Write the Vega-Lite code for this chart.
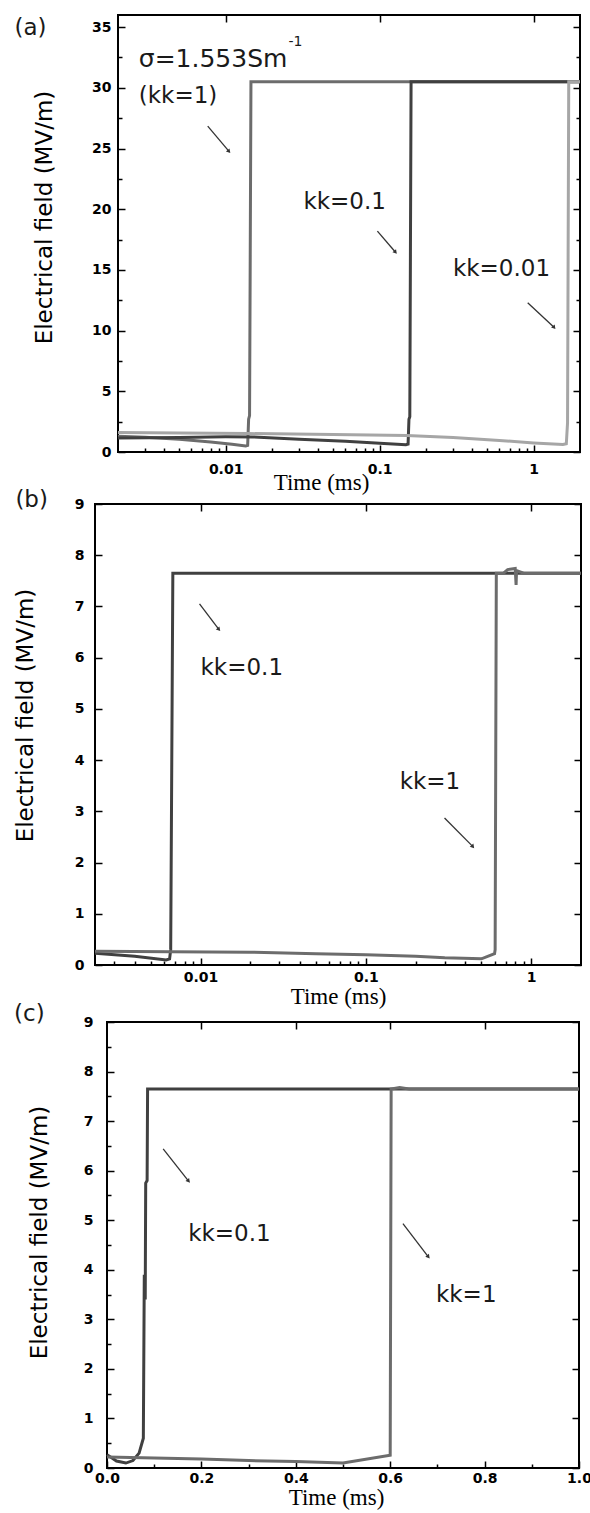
{
  "$schema": "https://vega.github.io/schema/vega-lite/v6.json",
  "background": "white",
  "padding": {"left": 13, "top": 13, "right": 0, "bottom": 0},
  "config": {
    "view": {"stroke": "black", "strokeWidth": 2},
    "axis": {"grid": false, "domain": false, "tickColor": "black", "tickWidth": 1.5, "labelColor": "black", "titleColor": "black", "labelFont": "DejaVu Sans", "labelFontWeight": "bold", "labelFontSize": 14, "labelFlush": false, "labelOverlap": false}
  },
  "datasets": {
    "a_lines": [
      {"kk": "1", "i": 0, "t": 0.002, "E": 1.3}, {"kk": "1", "i": 1, "t": 0.003, "E": 1.22}, {"kk": "1", "i": 2, "t": 0.005, "E": 1.05}, {"kk": "1", "i": 3, "t": 0.008, "E": 0.82}, {"kk": "1", "i": 4, "t": 0.011, "E": 0.63}, {"kk": "1", "i": 5, "t": 0.0135, "E": 0.5}, {"kk": "1", "i": 6, "t": 0.0139, "E": 0.55}, {"kk": "1", "i": 7, "t": 0.0141, "E": 2.7}, {"kk": "1", "i": 8, "t": 0.0143, "E": 3.0}, {"kk": "1", "i": 9, "t": 0.0146, "E": 30.5}, {"kk": "1", "i": 10, "t": 2, "E": 30.5},
      {"kk": "0.1", "i": 0, "t": 0.002, "E": 1.15}, {"kk": "0.1", "i": 1, "t": 0.005, "E": 1.2}, {"kk": "0.1", "i": 2, "t": 0.01, "E": 1.25}, {"kk": "0.1", "i": 3, "t": 0.015, "E": 1.24}, {"kk": "0.1", "i": 4, "t": 0.03, "E": 1.05}, {"kk": "0.1", "i": 5, "t": 0.06, "E": 0.88}, {"kk": "0.1", "i": 6, "t": 0.1, "E": 0.73}, {"kk": "0.1", "i": 7, "t": 0.148, "E": 0.6}, {"kk": "0.1", "i": 8, "t": 0.153, "E": 0.65}, {"kk": "0.1", "i": 9, "t": 0.155, "E": 2.7}, {"kk": "0.1", "i": 10, "t": 0.157, "E": 2.9}, {"kk": "0.1", "i": 11, "t": 0.16, "E": 30.5}, {"kk": "0.1", "i": 12, "t": 2, "E": 30.5},
      {"kk": "0.01", "i": 0, "t": 0.002, "E": 1.6}, {"kk": "0.01", "i": 1, "t": 0.005, "E": 1.57}, {"kk": "0.01", "i": 2, "t": 0.014, "E": 1.52}, {"kk": "0.01", "i": 3, "t": 0.05, "E": 1.45}, {"kk": "0.01", "i": 4, "t": 0.15, "E": 1.35}, {"kk": "0.01", "i": 5, "t": 0.3, "E": 1.2}, {"kk": "0.01", "i": 6, "t": 0.6, "E": 0.95}, {"kk": "0.01", "i": 7, "t": 1.0, "E": 0.75}, {"kk": "0.01", "i": 8, "t": 1.55, "E": 0.62}, {"kk": "0.01", "i": 9, "t": 1.63, "E": 0.68}, {"kk": "0.01", "i": 10, "t": 1.66, "E": 2.4}, {"kk": "0.01", "i": 11, "t": 1.69, "E": 30.5}, {"kk": "0.01", "i": 12, "t": 2, "E": 30.5}
    ],
    "a_arrows": [
      {"t": 0.00765, "E": 26.85, "t2": 0.01045, "E2": 24.8},
      {"t": 0.0967, "E": 18.2, "t2": 0.126, "E2": 16.5},
      {"t": 0.915, "E": 12.3, "t2": 1.35, "E2": 10.3}
    ],
    "a_text": [
      {"t": 0.000425, "E": 34.9, "label": "(a)"},
      {"t": 0.00273, "E": 29.3, "label": "(kk=1)"},
      {"t": 0.032, "E": 20.6, "label": "kk=0.1"},
      {"t": 0.299, "E": 15.1, "label": "kk=0.01"}
    ],
    "a_sigma": [
      {"t": 0.00273, "E": 32.4, "label": "σ=1.553Sm"}
    ],
    "a_sup": [
      {"t": 0.0256, "E": 33.8, "label": "-1"}
    ],
    "b_lines": [
      {"kk": "0.1", "i": 0, "t": 0.0023, "E": 0.23}, {"kk": "0.1", "i": 1, "t": 0.004, "E": 0.17}, {"kk": "0.1", "i": 2, "t": 0.0062, "E": 0.1}, {"kk": "0.1", "i": 3, "t": 0.0065, "E": 0.12}, {"kk": "0.1", "i": 4, "t": 0.0066, "E": 0.3}, {"kk": "0.1", "i": 5, "t": 0.0068, "E": 7.65}, {"kk": "0.1", "i": 6, "t": 2, "E": 7.65},
      {"kk": "1", "i": 0, "t": 0.0023, "E": 0.27}, {"kk": "1", "i": 1, "t": 0.0066, "E": 0.26}, {"kk": "1", "i": 2, "t": 0.02, "E": 0.25}, {"kk": "1", "i": 3, "t": 0.05, "E": 0.22}, {"kk": "1", "i": 4, "t": 0.1, "E": 0.2}, {"kk": "1", "i": 5, "t": 0.2, "E": 0.17}, {"kk": "1", "i": 6, "t": 0.3, "E": 0.14}, {"kk": "1", "i": 7, "t": 0.5, "E": 0.12}, {"kk": "1", "i": 8, "t": 0.6, "E": 0.22}, {"kk": "1", "i": 9, "t": 0.605, "E": 0.3}, {"kk": "1", "i": 10, "t": 0.615, "E": 7.65}, {"kk": "1", "i": 11, "t": 0.68, "E": 7.65}, {"kk": "1", "i": 12, "t": 0.72, "E": 7.72}, {"kk": "1", "i": 13, "t": 0.8, "E": 7.74}, {"kk": "1", "i": 14, "t": 0.81, "E": 7.42}, {"kk": "1", "i": 15, "t": 0.815, "E": 7.7}, {"kk": "1", "i": 16, "t": 0.9, "E": 7.65}, {"kk": "1", "i": 17, "t": 2, "E": 7.65}
    ],
    "b_arrows": [
      {"t": 0.00986, "E": 7.05, "t2": 0.01284, "E2": 6.56},
      {"t": 0.299, "E": 2.87, "t2": 0.441, "E2": 2.32}
    ],
    "b_text": [
      {"t": 0.000759, "E": 9.08, "label": "(b)"},
      {"t": 0.01, "E": 5.8, "label": "kk=0.1"},
      {"t": 0.16, "E": 3.57, "label": "kk=1"}
    ],
    "c_lines": [
      {"kk": "0.1", "i": 0, "t": 0, "E": 0.27}, {"kk": "0.1", "i": 1, "t": 0.02, "E": 0.14}, {"kk": "0.1", "i": 2, "t": 0.04, "E": 0.1}, {"kk": "0.1", "i": 3, "t": 0.055, "E": 0.15}, {"kk": "0.1", "i": 4, "t": 0.068, "E": 0.3}, {"kk": "0.1", "i": 5, "t": 0.077, "E": 0.6}, {"kk": "0.1", "i": 6, "t": 0.079, "E": 3.9}, {"kk": "0.1", "i": 7, "t": 0.081, "E": 3.4}, {"kk": "0.1", "i": 8, "t": 0.082, "E": 5.75}, {"kk": "0.1", "i": 9, "t": 0.085, "E": 5.8}, {"kk": "0.1", "i": 10, "t": 0.086, "E": 7.65}, {"kk": "0.1", "i": 11, "t": 1, "E": 7.65},
      {"kk": "1", "i": 0, "t": 0, "E": 0.22}, {"kk": "1", "i": 1, "t": 0.1, "E": 0.2}, {"kk": "1", "i": 2, "t": 0.2, "E": 0.18}, {"kk": "1", "i": 3, "t": 0.3, "E": 0.15}, {"kk": "1", "i": 4, "t": 0.4, "E": 0.13}, {"kk": "1", "i": 5, "t": 0.5, "E": 0.1}, {"kk": "1", "i": 6, "t": 0.6, "E": 0.26}, {"kk": "1", "i": 7, "t": 0.602, "E": 7.65}, {"kk": "1", "i": 8, "t": 0.62, "E": 7.68}, {"kk": "1", "i": 9, "t": 0.64, "E": 7.65}, {"kk": "1", "i": 10, "t": 1, "E": 7.65}
    ],
    "c_arrows": [
      {"t": 0.119, "E": 6.44, "t2": 0.172, "E2": 5.8},
      {"t": 0.627, "E": 4.93, "t2": 0.68, "E2": 4.27}
    ],
    "c_text": [
      {"t": -0.197, "E": 9.17, "label": "(c)"},
      {"t": 0.172, "E": 4.73, "label": "kk=0.1"},
      {"t": 0.697, "E": 3.5, "label": "kk=1"}
    ]
  },
  "spacing": -8,
  "vconcat": [
    {"spacing": -1, "hconcat": [
    {"width": 1, "height": 1, "data": {"values": []}, "mark": "point", "view": {"stroke": null}},
    {
      "width": 462, "height": 437,
      "layer": [
        {
          "data": {"name": "a_lines"},
          "mark": {"type": "line", "strokeWidth": 3},
          "encoding": {
            "x": {"field": "t", "type": "quantitative", "scale": {"type": "log", "domain": [0.002, 2], "nice": false},
              "axis": {"orient": "bottom", "values": [0.01, 0.1, 1], "format": "~g", "tickSize": -7, "labelPadding": 17, "title": "Time (ms)", "titleFont": "Liberation Serif", "titleFontSize": 23, "titleFontWeight": "normal", "titlePadding": -5, "titleX": 203}},
            "y": {"field": "E", "type": "quantitative", "scale": {"domain": [0, 36], "nice": false},
              "axis": {"orient": "left", "values": [0, 5, 10, 15, 20, 25, 30, 35], "tickSize": -7, "labelPadding": 14, "title": "Electrical field (MV/m)", "titleFont": "DejaVu Sans", "titleFontSize": 23, "titleFontWeight": "normal", "titlePadding": 35, "titleY": 202}},
            "color": {"field": "kk", "type": "nominal", "scale": {"domain": ["1", "0.1", "0.01"], "range": ["#6c6c6c", "#404040", "#a6a6a6"]}, "legend": null},
            "order": {"field": "i", "type": "quantitative"}
          }
        },
        {
          "data": {"name": "a_arrows"},
          "mark": {"type": "rule", "strokeWidth": 1.3, "color": "#333333"},
          "encoding": {
            "x": {"field": "t", "type": "quantitative", "scale": {"type": "log", "domain": [0.002, 2], "nice": false},
              "axis": {"orient": "bottom", "values": [0.003, 0.004, 0.005, 0.006, 0.007, 0.008, 0.009, 0.02, 0.03, 0.04, 0.05, 0.06, 0.07, 0.08, 0.09, 0.2, 0.3, 0.4, 0.5, 0.6, 0.7, 0.8, 0.9], "labels": false, "tickSize": -4, "title": null}},
            "x2": {"field": "t2"},
            "y": {"field": "E", "type": "quantitative", "scale": {"domain": [0, 36], "nice": false},
              "axis": {"orient": "left", "values": [2.5, 7.5, 12.5, 17.5, 22.5, 27.5, 32.5], "labels": false, "tickSize": -4, "title": null}},
            "y2": {"field": "E2"}
          }
        },
        {
          "data": {"name": "a_arrows"},
          "mark": {"type": "point", "shape": "triangle", "filled": true, "size": 22, "angle": 140, "color": "#333333", "opacity": 1},
          "encoding": {
            "x": {"field": "t2", "type": "quantitative", "scale": {"type": "log", "domain": [0.002, 2], "nice": false}, "axis": null},
            "y": {"field": "E2", "type": "quantitative", "scale": {"domain": [0, 36], "nice": false}, "axis": null}
          }
        },
        {
          "data": {"name": "a_text"},
          "mark": {"type": "text", "align": "left", "baseline": "middle", "font": "DejaVu Sans", "fontSize": 23, "color": "#1a1a1a"},
          "encoding": {
            "x": {"field": "t", "type": "quantitative", "scale": {"type": "log", "domain": [0.002, 2], "nice": false},
              "axis": {"orient": "top", "values": [0.01, 0.1, 1], "labels": false, "tickSize": -7, "title": null}},
            "y": {"field": "E", "type": "quantitative", "scale": {"domain": [0, 36], "nice": false},
              "axis": {"orient": "right", "values": [0, 5, 10, 15, 20, 25, 30, 35], "labels": false, "tickSize": -7, "title": null}},
            "text": {"field": "label"}
          }
        },
        {
          "data": {"name": "a_sigma"},
          "mark": {"type": "text", "align": "left", "baseline": "middle", "font": "DejaVu Sans", "fontSize": 25, "color": "#1a1a1a"},
          "encoding": {
            "x": {"field": "t", "type": "quantitative", "scale": {"type": "log", "domain": [0.002, 2], "nice": false}, "axis": null},
            "y": {"field": "E", "type": "quantitative", "scale": {"domain": [0, 36], "nice": false}, "axis": null},
            "text": {"field": "label"}
          }
        },
        {
          "data": {"name": "a_sup"},
          "mark": {"type": "text", "align": "left", "baseline": "middle", "font": "DejaVu Sans", "fontSize": 14, "color": "#1a1a1a"},
          "encoding": {
            "x": {"field": "t", "type": "quantitative", "scale": {"type": "log", "domain": [0.002, 2], "nice": false}, "axis": null},
            "y": {"field": "E", "type": "quantitative", "scale": {"domain": [0, 36], "nice": false},
              "axis": {"orient": "right", "values": [2.5, 7.5, 12.5, 17.5, 22.5, 27.5, 32.5], "labels": false, "tickSize": -4, "title": null}},
            "text": {"field": "label"}
          }
        }
      ],
      "resolve": {"axis": {"x": "independent", "y": "independent"}}
    }]},
    {"spacing": -1, "hconcat": [
    {"width": 1, "height": 1, "data": {"values": []}, "mark": "point", "view": {"stroke": null}},
    {
      "width": 486, "height": 461,
      "layer": [
        {
          "data": {"name": "b_lines"},
          "mark": {"type": "line", "strokeWidth": 3},
          "encoding": {
            "x": {"field": "t", "type": "quantitative", "scale": {"type": "log", "domain": [0.0023, 2], "nice": false},
              "axis": {"orient": "bottom", "values": [0.01, 0.1, 1], "format": "~g", "tickSize": -7, "labelPadding": 12, "title": "Time (ms)", "titleFont": "Liberation Serif", "titleFontSize": 23, "titleFontWeight": "normal", "titlePadding": 1}},
            "y": {"field": "E", "type": "quantitative", "scale": {"domain": [0, 9], "nice": false},
              "axis": {"orient": "left", "values": [0, 1, 2, 3, 4, 5, 6, 7, 8, 9], "tickSize": -7, "labelPadding": 18, "title": "Electrical field (MV/m)", "titleFont": "DejaVu Sans", "titleFontSize": 23, "titleFontWeight": "normal", "titlePadding": 37, "titleY": 211}},
            "color": {"field": "kk", "type": "nominal", "scale": {"domain": ["0.1", "1"], "range": ["#4a4a4a", "#787878"]}, "legend": null},
            "order": {"field": "i", "type": "quantitative"}
          }
        },
        {
          "data": {"name": "b_arrows"},
          "mark": {"type": "rule", "strokeWidth": 1.3, "color": "#333333"},
          "encoding": {
            "x": {"field": "t", "type": "quantitative", "scale": {"type": "log", "domain": [0.0023, 2], "nice": false},
              "axis": {"orient": "bottom", "values": [0.003, 0.004, 0.005, 0.006, 0.007, 0.008, 0.009, 0.02, 0.03, 0.04, 0.05, 0.06, 0.07, 0.08, 0.09, 0.2, 0.3, 0.4, 0.5, 0.6, 0.7, 0.8, 0.9], "labels": false, "tickSize": -4, "title": null}},
            "x2": {"field": "t2"},
            "y": {"field": "E", "type": "quantitative", "scale": {"domain": [0, 9], "nice": false},
              "axis": {"orient": "right", "values": [0, 1, 2, 3, 4, 5, 6, 7, 8, 9], "labels": false, "tickSize": -7, "title": null}},
            "y2": {"field": "E2"}
          }
        },
        {
          "data": {"name": "b_arrows"},
          "mark": {"type": "point", "shape": "triangle", "filled": true, "size": 22, "angle": 140, "color": "#333333", "opacity": 1},
          "encoding": {
            "x": {"field": "t2", "type": "quantitative", "scale": {"type": "log", "domain": [0.0023, 2], "nice": false}, "axis": null},
            "y": {"field": "E2", "type": "quantitative", "scale": {"domain": [0, 9], "nice": false}, "axis": null}
          }
        },
        {
          "data": {"name": "b_text"},
          "mark": {"type": "text", "align": "left", "baseline": "middle", "font": "DejaVu Sans", "fontSize": 23, "color": "#1a1a1a"},
          "encoding": {
            "x": {"field": "t", "type": "quantitative", "scale": {"type": "log", "domain": [0.0023, 2], "nice": false},
              "axis": {"orient": "top", "values": [0.01, 0.1, 1], "labels": false, "tickSize": -7, "title": null}},
            "y": {"field": "E", "type": "quantitative", "scale": {"domain": [0, 9], "nice": false}, "axis": null},
            "text": {"field": "label"}
          }
        }
      ],
      "resolve": {"axis": {"x": "independent", "y": "independent"}}
    }]},
    {"spacing": -1, "hconcat": [
    {"width": 1, "height": 1, "data": {"values": []}, "mark": "point", "view": {"stroke": null}},
    {
      "width": 472, "height": 446,
      "layer": [
        {
          "data": {"name": "c_lines"},
          "mark": {"type": "line", "strokeWidth": 3},
          "encoding": {
            "x": {"field": "t", "type": "quantitative", "scale": {"domain": [0, 1], "nice": false},
              "axis": {"orient": "bottom", "values": [0, 0.2, 0.4, 0.6, 0.8, 1], "format": ".1f", "tickSize": -7, "labelPadding": 10, "title": "Time (ms)", "titleFont": "Liberation Serif", "titleFontSize": 23, "titleFontWeight": "normal", "titlePadding": 1, "titleX": 229}},
            "y": {"field": "E", "type": "quantitative", "scale": {"domain": [0, 9], "nice": false},
              "axis": {"orient": "left", "values": [0, 1, 2, 3, 4, 5, 6, 7, 8, 9], "tickSize": -7, "labelPadding": 21, "title": "Electrical field (MV/m)", "titleFont": "DejaVu Sans", "titleFontSize": 23, "titleFontWeight": "normal", "titlePadding": 32, "titleY": 210}},
            "color": {"field": "kk", "type": "nominal", "scale": {"domain": ["0.1", "1"], "range": ["#525252", "#707070"]}, "legend": null},
            "order": {"field": "i", "type": "quantitative"}
          }
        },
        {
          "data": {"name": "c_arrows"},
          "mark": {"type": "rule", "strokeWidth": 1.3, "color": "#333333"},
          "encoding": {
            "x": {"field": "t", "type": "quantitative", "scale": {"domain": [0, 1], "nice": false},
              "axis": {"orient": "bottom", "values": [0.1, 0.3, 0.5, 0.7, 0.9], "labels": false, "tickSize": -4, "title": null}},
            "x2": {"field": "t2"},
            "y": {"field": "E", "type": "quantitative", "scale": {"domain": [0, 9], "nice": false},
              "axis": {"orient": "left", "values": [0.5, 1.5, 2.5, 3.5, 4.5, 5.5, 6.5, 7.5, 8.5], "labels": false, "tickSize": -4, "title": null}},
            "y2": {"field": "E2"}
          }
        },
        {
          "data": {"name": "c_arrows"},
          "mark": {"type": "point", "shape": "triangle", "filled": true, "size": 22, "angle": 140, "color": "#333333", "opacity": 1},
          "encoding": {
            "x": {"field": "t2", "type": "quantitative", "scale": {"domain": [0, 1], "nice": false}, "axis": null},
            "y": {"field": "E2", "type": "quantitative", "scale": {"domain": [0, 9], "nice": false}, "axis": null}
          }
        },
        {
          "data": {"name": "c_text"},
          "mark": {"type": "text", "align": "left", "baseline": "middle", "font": "DejaVu Sans", "fontSize": 23, "color": "#1a1a1a"},
          "encoding": {
            "x": {"field": "t", "type": "quantitative", "scale": {"domain": [0, 1], "nice": false},
              "axis": {"orient": "top", "values": [0.2, 0.4, 0.6, 0.8], "labels": false, "tickSize": -7, "title": null}},
            "y": {"field": "E", "type": "quantitative", "scale": {"domain": [0, 9], "nice": false},
              "axis": {"orient": "right", "values": [0, 1, 2, 3, 4, 5, 6, 7, 8, 9], "labels": false, "tickSize": -7, "title": null}},
            "text": {"field": "label"}
          }
        }
      ],
      "resolve": {"axis": {"x": "independent", "y": "independent"}}
    }]}
  ]
}
